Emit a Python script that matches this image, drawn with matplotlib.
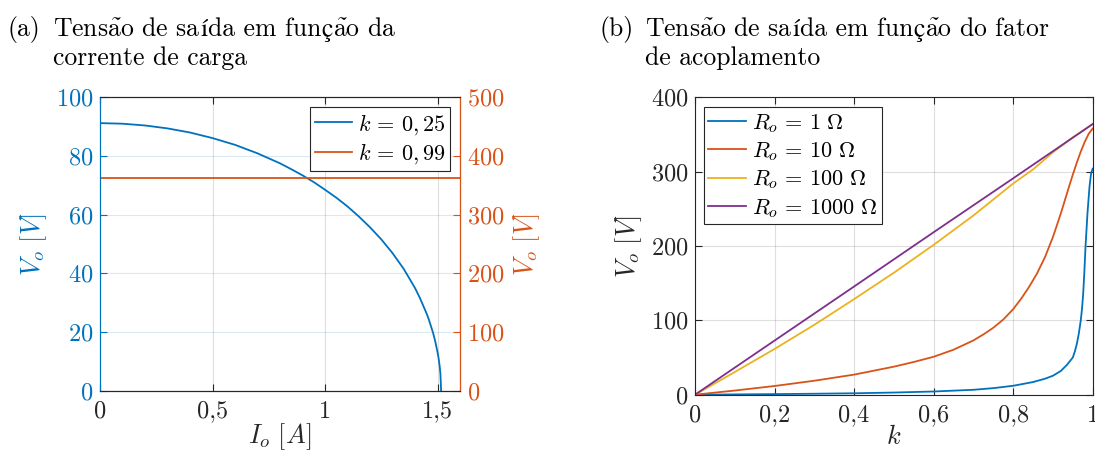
import matplotlib
matplotlib.use("Agg")
import matplotlib.pyplot as plt
from matplotlib.lines import Line2D

plt.rcParams["font.family"] = ["cmr10", "DejaVu Serif"]
plt.rcParams["mathtext.fontset"] = "cm"
plt.rcParams["axes.formatter.use_mathtext"] = True
plt.rcParams["axes.unicode_minus"] = False

# (a) output voltage vs load current
io_k025 = [0.0, 0.1, 0.2, 0.3, 0.4, 0.5, 0.6, 0.7, 0.8, 0.85, 0.9, 0.95, 1.0,
           1.05, 1.1, 1.15, 1.2, 1.25, 1.3, 1.35, 1.4, 1.42, 1.45, 1.46, 1.48,
           1.49, 1.5, 1.505, 1.51, 1.513, 1.516]
vo_k025 = [91.2, 91.0, 90.4, 89.4, 88.0, 86.1, 83.8, 80.9, 77.5, 75.5, 73.4,
           71.1, 68.5, 65.8, 62.8, 59.4, 55.7, 51.6, 46.9, 41.5, 35.0, 31.9,
           26.6, 24.6, 19.8, 16.8, 13.2, 11.0, 8.1, 5.7, 0.0]
io_k099 = [0.0, 1.6]
vo_k099 = [362.0, 362.0]

# (b) output voltage vs coupling factor
k_r1 = [0.0, 0.1, 0.2, 0.3, 0.4, 0.5, 0.6, 0.7, 0.75, 0.8, 0.85, 0.88, 0.9,
        0.92, 0.935, 0.95, 0.955, 0.96, 0.965, 0.97, 0.973, 0.976, 0.979,
        0.982, 0.987, 0.992, 0.996, 1.0]
vo_r1 = [0.0, 0.4, 0.8, 1.3, 1.9, 2.9, 4.3, 6.6, 8.8, 12.0, 17.0, 21.5, 25.5,
         32.0, 40.0, 50.0, 58.0, 68.0, 82.0, 100.0, 115.0, 135.0, 165.0,
         200.0, 245.0, 280.0, 298.0, 304.0]
k_r10 = [0.0, 0.1, 0.2, 0.3, 0.4, 0.5, 0.55, 0.6, 0.65, 0.7, 0.725, 0.75,
         0.775, 0.8, 0.82, 0.84, 0.86, 0.88, 0.9, 0.92, 0.94, 0.95, 0.96,
         0.97, 0.98, 0.99, 1.0]
vo_r10 = [0.0, 5.6, 11.7, 18.8, 27.0, 37.7, 44.0, 51.0, 60.5, 73.0, 81.0,
          90.0, 101.0, 115.0, 129.0, 145.0, 163.0, 185.0, 212.0, 244.0, 279.0,
          296.0, 312.0, 327.0, 340.0, 351.0, 358.0]
k_r100 = [0.0, 0.1, 0.2, 0.3, 0.4, 0.5, 0.6, 0.7, 0.8, 0.85, 0.9, 0.95, 1.0]
vo_r100 = [0.0, 30.5, 61.5, 94.0, 128.5, 164.0, 201.5, 241.0, 284.0, 303.0,
           326.0, 346.0, 364.0]
k_r1000 = [0.0, 0.2, 0.4, 0.6, 0.8, 1.0]
vo_r1000 = [0.0, 72.8, 145.5, 218.5, 291.0, 364.0]

xticks_a = [0, 0.5, 1, 1.5]
xticklabels_a = ["0", "0,5", "1", "1,5"]
xticks_b = [0, 0.2, 0.4, 0.6, 0.8, 1.0]
xticklabels_b = ["0", "0,2", "0,4", "0,6", "0,8", "1"]

BLUE = "#0072BD"
RED = "#D95319"
YELLOW = "#EDB120"
PURPLE = "#7E2F8E"
DARK = "#262626"

W, H = 1095, 455
fig = plt.figure(figsize=(W / 100, H / 100), dpi=100)

def fbox(x0, y0, x1, y1):
    return [x0 / W, 1 - y1 / H, (x1 - x0) / W, (y1 - y0) / H]

TICK_FS = 17.5
LAB_FS = 19
LEG_FS = 16
TITLE_FS = 18.5
LW = 1.3

# ---------------- panel (a) ----------------
ax1 = fig.add_axes(fbox(100, 97.3, 460, 390.7))
ax2 = ax1.twinx()
ax1.plot(io_k025, vo_k025, color=BLUE, lw=LW)
ax2.plot(io_k099, vo_k099, color=RED, lw=LW)
ax1.set_xlim(0, 1.6)
ax1.set_ylim(0, 100)
ax2.set_ylim(0, 500)
ax1.set_xticks(xticks_a)
ax1.set_xticklabels(xticklabels_a)
ax1.set_yticks(range(0, 101, 20))
ax2.set_yticks(range(0, 501, 100))
ax1.xaxis.grid(True, color=DARK, alpha=0.15, lw=0.8)
ax1.yaxis.grid(True, color=BLUE, alpha=0.15, lw=0.8)
ax1.set_axisbelow(True)
ax1.tick_params(axis="x", direction="in", top=True, length=5, width=0.8,
                colors=DARK, labelsize=TICK_FS, pad=7)
ax1.tick_params(axis="y", direction="in", length=5, width=0.8, colors=BLUE,
                labelsize=TICK_FS, pad=5)
ax2.tick_params(axis="y", direction="in", length=5, width=0.8, colors=RED,
                labelsize=TICK_FS, pad=5)
for s in ("top", "bottom"):
    ax1.spines[s].set_color(DARK)
    ax2.spines[s].set_color(DARK)
ax2.spines["left"].set_color(BLUE)
ax2.spines["right"].set_color(RED)
ax1.spines["left"].set_color(BLUE)
for ax in (ax1, ax2):
    for s in ax.spines.values():
        s.set_linewidth(0.8)
ax1.set_xlabel(r"$I_o\ [A]$", fontsize=LAB_FS, color=DARK, labelpad=-1)
ax1.set_ylabel(r"$V_o\ [V]$", fontsize=LAB_FS, color=BLUE, labelpad=5)
ax2.set_ylabel(r"$V_o\ [V]$", fontsize=LAB_FS, color=RED, labelpad=5)

handles_a = [Line2D([], [], color=BLUE, lw=LW), Line2D([], [], color=RED, lw=LW)]
leg_a = ax2.legend(handles_a, [r"$k\,=\,0,25$", r"$k\,=\,0,99$"], loc="upper right",
                   bbox_to_anchor=(450 / W, 1 - 107.3 / H),
                   bbox_transform=fig.transFigure, fontsize=LEG_FS,
                   fancybox=False, framealpha=1, edgecolor=DARK,
                   handlelength=1.7, handletextpad=0.25, borderpad=0.2,
                   labelspacing=0.22, borderaxespad=0)
leg_a.get_frame().set_linewidth(0.8)

# ---------------- panel (b) ----------------
ax3 = fig.add_axes(fbox(695, 97.3, 1092.7, 394.7))
ax3.plot(k_r1, vo_r1, color=BLUE, lw=LW, label=r"$R_o\,=\,1\ \Omega$")
ax3.plot(k_r10, vo_r10, color=RED, lw=LW, label=r"$R_o\,=\,10\ \Omega$")
ax3.plot(k_r100, vo_r100, color=YELLOW, lw=LW, label=r"$R_o\,=\,100\ \Omega$")
ax3.plot(k_r1000, vo_r1000, color=PURPLE, lw=LW, label=r"$R_o\,=\,1000\ \Omega$")
ax3.set_xlim(0, 1)
ax3.set_ylim(0, 400)
ax3.set_xticks(xticks_b)
ax3.set_xticklabels(xticklabels_b)
ax3.set_yticks(range(0, 401, 100))
ax3.grid(True, color=DARK, alpha=0.15, lw=0.8)
ax3.set_axisbelow(True)
ax3.tick_params(axis="both", direction="in", top=True, right=True, length=5,
                width=0.8, colors=DARK, labelsize=TICK_FS)
ax3.tick_params(axis="x", pad=7)
ax3.tick_params(axis="y", pad=5)
for s in ax3.spines.values():
    s.set_color(DARK)
    s.set_linewidth(0.8)
ax3.set_xlabel(r"$k$", fontsize=LAB_FS, color=DARK, labelpad=-1)
ax3.set_ylabel(r"$V_o\ [V]$", fontsize=LAB_FS, color=DARK, labelpad=5)
leg_b = ax3.legend(loc="upper left", bbox_to_anchor=(704 / W, 1 - 107.3 / H),
                   bbox_transform=fig.transFigure, fontsize=LEG_FS,
                   fancybox=False, framealpha=1, edgecolor=DARK,
                   handlelength=1.7, handletextpad=0.25, borderpad=0.2,
                   labelspacing=0.25, borderaxespad=0)
leg_b.get_frame().set_linewidth(0.8)

# ---------------- titles ----------------
A_TIL = r"$\tilde{\mathrm{a}}$"
ACC = "STIXGeneral"   # serif face for the accented letters cmr10 lacks
renderer = fig.canvas.get_renderer()


def run_of_text(x_px, y_px, pieces):
    """Lay out text pieces one after another on a common baseline."""
    x = x_px / W
    for txt, family in pieces:
        kw = {"family": family} if family else {}
        t = fig.text(x, 1 - y_px / H, txt, fontsize=TITLE_FS, va="baseline",
                     ha="left", **kw)
        x = t.get_window_extent(renderer).x1 / W


run_of_text(8, 36, [("(a)", None)])
run_of_text(53, 36, [("Tens" + A_TIL + "o de sa", None), ("í", ACC),
                     ("da em fun", None), ("ç", ACC), (A_TIL + "o da", None)])
run_of_text(53, 65, [("corrente de carga", None)])
run_of_text(600, 36, [("(b)", None)])
run_of_text(645, 36, [("Tens" + A_TIL + "o de sa", None), ("í", ACC),
                      ("da em fun", None), ("ç", ACC),
                      (A_TIL + "o do fator", None)])
run_of_text(645, 65, [("de acoplamento", None)])

fig.savefig("out.png", dpi=100)
